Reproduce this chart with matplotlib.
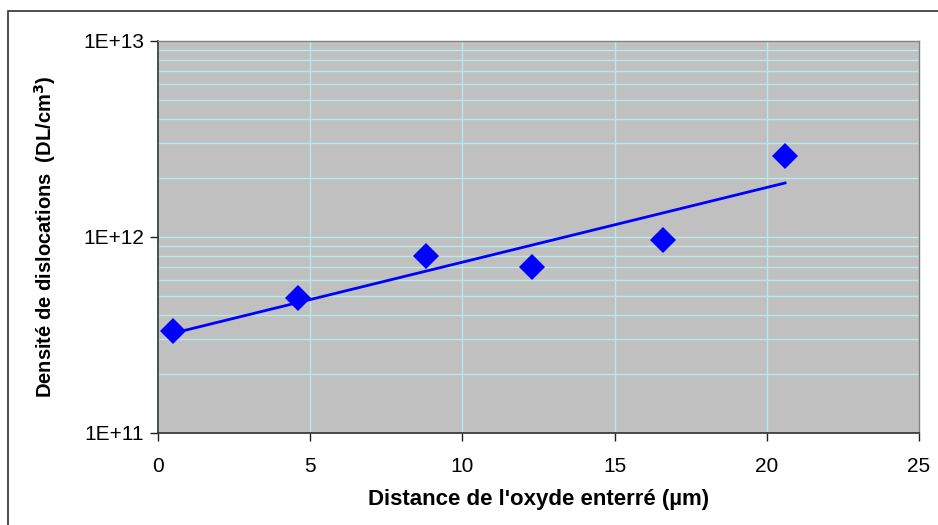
import numpy as np
import matplotlib
matplotlib.use("Agg")
import matplotlib.pyplot as plt
from matplotlib.patches import Rectangle
from matplotlib.ticker import LogLocator, FixedLocator, NullFormatter

plt.rcParams['font.family'] = ['Liberation Sans', 'DejaVu Sans']

distance = [0.5, 4.6, 8.8, 12.3, 16.6, 20.6]
density = [3.3e11, 4.9e11, 8.0e11, 7.0e11, 9.7e11, 2.6e12]
x_ticks = [0, 5, 10, 15, 20, 25]
y_ticks = [1e11, 1e12, 1e13]
y_tick_labels = ['1E+11', '1E+12', '1E+13']

W, H = 938, 525
fig = plt.figure(figsize=(W / 100, H / 100), dpi=100)
ax = fig.add_axes([158 / W, 1 - 433 / H, (919 - 158) / W, (433 - 41) / H])

# outer chart border (left and top visible)
fig.patches.append(Rectangle((7.5 / W, -0.1), 1.2, 1 - 10.5 / H + 0.1,
                             transform=fig.transFigure, fill=False,
                             edgecolor='#303030', linewidth=1.2, zorder=0))

ax.set_facecolor('#C0C0C0')
ax.set_yscale('log')
ax.set_xlim(0, 25)
ax.set_ylim(1e11, 1e13)

ax.xaxis.set_major_locator(FixedLocator(x_ticks))
ax.set_xticklabels([str(t) for t in x_ticks])
ax.yaxis.set_major_locator(FixedLocator(y_ticks))
ax.set_yticklabels(y_tick_labels)
ax.yaxis.set_minor_locator(LogLocator(base=10, subs=np.arange(2, 10)))
ax.yaxis.set_minor_formatter(NullFormatter())

ax.grid(True, which='major', axis='both', color='#B4EAEA', linewidth=1.0)
ax.grid(True, which='minor', axis='y', color='#B4EAEA', linewidth=1.0)
ax.set_axisbelow(True)

ax.tick_params(axis='both', which='major', direction='out', length=6,
               width=1, color='#202020', labelsize=15, pad=4)
ax.tick_params(axis='x', which='major', pad=11)
ax.tick_params(axis='y', which='minor', length=0)

for s in ['left', 'bottom']:
    ax.spines[s].set_color('#303030')
    ax.spines[s].set_linewidth(1.2)
for s in ['top', 'right']:
    ax.spines[s].set_color('#808080')
    ax.spines[s].set_linewidth(1.0)

# exponential trend line (least squares on log10 values)
coef = np.polyfit(distance, np.log10(density), 1)
xt = np.linspace(min(distance), max(distance), 100)
ax.plot(xt, 10 ** np.polyval(coef, xt), color='#0000FF', linewidth=2.0, zorder=3)

ax.plot(distance, density, linestyle='none', marker='D', markersize=13.5,
        color='#0000FF', markeredgewidth=0, zorder=4)

ax.set_xlabel("Distance de l'oxyde enterré (µm)", fontsize=16, fontweight='bold',
              labelpad=10)
ax.set_ylabel("Densité de dislocations  (DL/cm$^{\\mathbf{3}}$)", fontsize=14.5,
              fontweight='bold', labelpad=18)

fig.savefig('out.png', dpi=100, facecolor='white')
